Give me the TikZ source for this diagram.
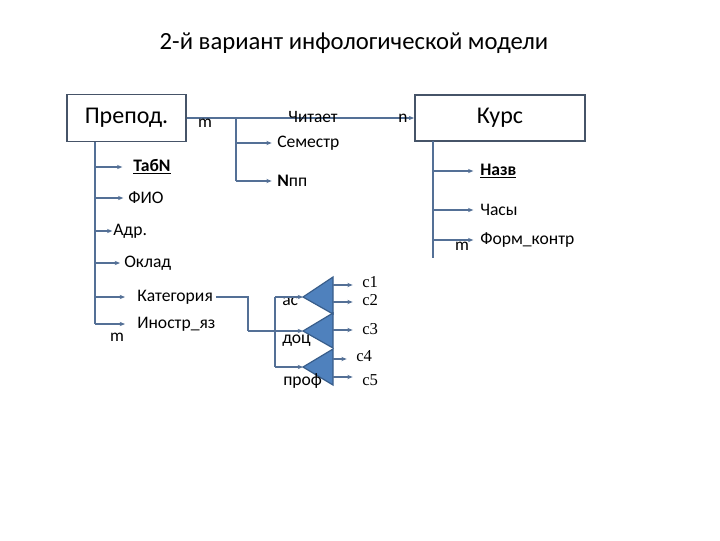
\documentclass[tikz,border=0pt]{standalone}
\usepackage{fontspec}
\setmainfont{Carlito}
\newfontfamily\cserif{Liberation Serif}
\usetikzlibrary{arrows.meta}
\definecolor{lnc}{RGB}{84,112,150}
\definecolor{boxc}{RGB}{70,84,104}
\definecolor{trifill}{RGB}{79,129,189}
\definecolor{tridraw}{RGB}{56,93,138}
\begin{document}
\begin{tikzpicture}[x=0.75pt,y=-0.75pt,
  ln/.style={draw=lnc, line width=0.9pt},
  arr/.style={ln, -{Stealth[length=4pt,width=3.2pt]}},
  lbl/.style={inner sep=0pt, font=\fontsize{13}{15}\selectfont},
  attr/.style={anchor=west, inner sep=0pt, font=\fontsize{13.2}{15}\selectfont},
  clbl/.style={anchor=west, inner sep=0pt, font=\cserif\fontsize{12.5}{14}\selectfont},
  ent/.style={draw=boxc, line width=1.4pt, font=\fontsize{18}{20}\selectfont},
  tri/.style={fill=trifill, draw=tridraw, line width=0.9pt}]
\useasboundingbox (0,0) rectangle (720,540);
% title
\node[inner sep=0pt, font=\fontsize{18.5}{21}\selectfont] (title) at (354,43) {2-й вариант инфологической модели};
% entities
\node[ent, minimum width=89.25pt, minimum height=35.25pt] (prep) at (126.5,118) {Препод.};
\node[ent, minimum width=127.5pt, minimum height=34.5pt] (kurs) at (500,118) {Курс};
% relationship line
\draw[arr] (prep.east) -- (kurs.west);
\node[lbl] (m1) at (205,123) {m};
\node[lbl] (chit) at (313,117) {Читает};
\node[lbl] (n1) at (403,118) {n};
% relationship attributes
\coordinate (j1) at (236,118);
\node[attr] (sem) at (277,143) {Семестр};
\node[attr] (npp) at (277,181) {\textbf{N}пп};
\draw[ln] (j1) -- (npp.west -| j1);
\draw[arr] (sem.west -| j1) -- ([xshift=-4pt]sem.west);
\draw[arr] (npp.west -| j1) -- ([xshift=-4pt]npp.west);
% Prep attributes
\coordinate (pv) at (95,142);
\node[attr] (tabn) at (133,167) {\textbf{\underline{ТабN}}};
\node[attr] (fio) at (128,198) {ФИО};
\node[attr] (adr) at (113,231) {Адр.};
\node[attr] (okl) at (124,263) {Оклад};
\node[attr] (kat) at (137,297) {Категория};
\node[attr] (inos) at (137,324) {Иностр\_яз};
\node[lbl] (m2) at (117,337) {m};
\draw[ln] (pv) -- (inos.west -| pv);
\draw[arr] (tabn.west -| pv) -- ([xshift=-8pt]tabn.west);
\draw[arr] (fio.west -| pv) -- ([xshift=-3.5pt]fio.west);
\draw[arr] (adr.west -| pv) -- ([xshift=-0.5pt]adr.west);
\draw[arr] (okl.west -| pv) -- ([xshift=-3pt]okl.west);
\draw[arr] (kat.west -| pv) -- ([xshift=-9pt]kat.west);
\draw[arr] (inos.west -| pv) -- ([xshift=-9pt]inos.west);
% Kurs attributes
\coordinate (kv) at (433,141);
\coordinate (kvb) at (433,258);
\draw[ln] (kv) -- (kvb);
\node[attr] (nazv) at (480,171) {\textbf{\underline{Назв}}};
\node[attr] (chas) at (480,210) {Часы};
\node[attr] (form) at (480,240) {Форм\_контр};
\node[lbl] (m3) at (462,246) {m};
\draw[arr] (nazv.west -| kv) -- ([xshift=-5pt]nazv.west);
\draw[arr] (chas.west -| kv) -- ([xshift=-5pt]chas.west);
\draw[arr] (form.west -| kv) -- ([xshift=-5pt]form.west);
% triangles (categories)
\coordinate (t1) at (303,297);
\coordinate (t2) at (303,331);
\coordinate (t3) at (303,367);
\fill[tri] (t1) -- (333,277) -- (333,314) -- cycle;
\fill[tri] (t2) -- (333,313) -- (333,348) -- cycle;
\fill[tri] (t3) -- (333,349) -- (333,385) -- cycle;
\node[attr] (as) at (282,301) {ас};
\node[attr] (doc) at (282,341) {доц};
\node[attr] (prof) at (283,381) {проф};
% category connectors
\coordinate (kj1) at (248,297);
\coordinate (kj2) at (248,331);
\coordinate (bv1) at (275,297);
\coordinate (bv2) at (275,367);
\draw[ln] ([xshift=2pt]kat.east) -- (kj1) -- (kj2);
\draw[arr] (kj2) -- (t2);
\draw[ln] (bv1) -- (bv2);
\draw[arr] (bv1) -- (t1);
\draw[arr] (bv2) -- (t3);
% outputs
\node[clbl] (c1) at (362,282) {c1};
\node[clbl] (c2) at (362,300) {c2};
\node[clbl] (c3) at (362,329) {c3};
\node[clbl] (c4) at (356,356) {c4};
\node[clbl] (c5) at (362,380) {c5};
\draw[arr] (333,285) -- ([xshift=-7pt]c1.west |- 0,285);
\draw[arr] (333,302) -- ([xshift=-7pt]c2.west |- 0,302);
\draw[arr] (333,330) -- ([xshift=-7pt]c3.west |- 0,330);
\draw[arr] (333,359) -- ([xshift=-7pt]c4.west |- 0,359);
\draw[arr] (333,377) -- ([xshift=-7pt]c5.west |- 0,377);
\end{tikzpicture}
\end{document}
